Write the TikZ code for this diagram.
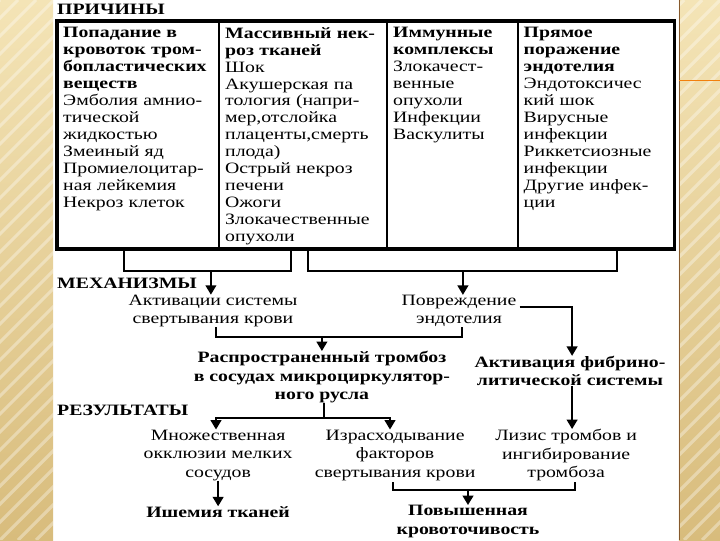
\documentclass[tikz,border=0pt]{standalone}
\usepackage{fontspec}
\setmainfont[FakeStretch=1.25]{Liberation Serif}
\usetikzlibrary{arrows.meta}
\definecolor{goldlight}{HTML}{F4E4B6}
\definecolor{golddark}{HTML}{D8BC7C}

\begin{document}
\begin{tikzpicture}[
	cell/.style={anchor=north west, inner sep=0pt, text width=5.1cm, align=left,
		font=\fontsize{15}{16.1}\selectfont},
	txt/.style={inner sep=0pt, align=center, font=\fontsize{15}{17.5}\selectfont},
	bold/.style={txt, font=\fontsize{15}{17.5}\selectfont\bfseries},
	head/.style={anchor=west, inner sep=0pt, font=\fontsize{15}{16}\selectfont\bfseries},
	link/.style={line width=2.2pt},
	arr/.style={line width=2.2pt, -{Triangle[length=9pt,width=10pt]}}
	]
		\useasboundingbox (0,0) rectangle (24,18);
		% side bars of the slide
		\shade [top color=goldlight, bottom color=golddark] (0,0) rectangle (1.77,18);
		\shade [top color=goldlight, bottom color=golddark] (22.63,0) rectangle (24,18);
		\begin{scope}
			\clip (0,0) rectangle (1.77,18) (22.63,0) rectangle (24,18);
			\foreach \s in {-24,-23.4,...,24}
				\draw [white, opacity=0.35, line width=3pt] (\s,0) -- (\s+18,18);
		\end{scope}
		\draw [brown!70!black, line width=0.6pt] (22.63,0) -- (22.63,18);
		\draw [orange!80!brown, line width=0.6pt] (22.63,15.33) -- (24,15.33);

		% causes table
		\node [head] (causes) at (1.9,17.7) {ПРИЧИНЫ};
		\draw [line width=3pt] (1.9,9.7) rectangle (22.47,17.3);
		\draw [line width=1.6pt] (7.3,9.7) -- (7.3,17.3);
		\draw [line width=1.6pt] (12.9,9.7) -- (12.9,17.3);
		\draw [line width=1.6pt] (17.27,9.7) -- (17.27,17.3);
		\node [cell] (col1) at (2.1,17.1) {\textbf{Попадание в\\кровоток тром-\\бопластических\\веществ}\\Эмболия амнио-\\тической\\жидкостью\\Змеиный яд\\Промиелоцитар-\\ная лейкемия\\Некроз клеток};
		\node [cell] (col2) at (7.5,17.1) {\textbf{Массивный нек-\\роз тканей}\\Шок\\Акушерская па\\тология (напри-\\мер,отслойка\\плаценты,смерть\\плода)\\Острый некроз\\печени\\Ожоги\\Злокачественные\\опухоли};
		\node [cell] (col3) at (13.1,17.1) {\textbf{Иммунные\\комплексы}\\Злокачест-\\венные\\опухоли\\Инфекции\\Васкулиты};
		\node [cell] (col4) at (17.45,17.1) {\textbf{Прямое\\поражение\\эндотелия}\\Эндотоксичес\\кий шок\\Вирусные\\инфекции\\Риккетсиозные\\инфекции\\Другие инфек-\\ции};

		% mechanisms
		\node [head] (mech) at (1.9,8.57) {МЕХАНИЗМЫ};
		\node [txt] (coag) at (7.1,7.63) {Активации системы\\свертывания крови};
		\node [txt] (endo) at (15.3,7.63) {Повреждение\\эндотелия};
		\node [bold] (fibr) at (19.0,5.63) {Активация фибрино-\\литической системы};
		\node [bold] (thromb) at (10.73,5.43) {Распространенный тромбоз\\в сосудах микроциркулятор-\\ного русла};

		\coordinate (c1) at (4.13,9.7);
		\coordinate (c2a) at (9.7,9.7);
		\coordinate (c2b) at (10.27,9.7);
		\coordinate (c4) at (20.57,9.7);
		\coordinate (m1) at (7.03,8.97);
		\coordinate (m2) at (15.43,8.97);
		\draw [link] (c1) |- (m1) -| (c2a);
		\draw [link] (c2b) |- (m2) -| (c4);
		\draw [arr] (m1) -- (m1 |- coag.north);
		\draw [arr] (m2) -- (m2 |- endo.north);

		\coordinate (j1) at (10.73,6.77);
		\draw [link] (coag.south) ++(0.1,0) coordinate (b1) -- (b1 |- j1) -- (j1)
			-| ([xshift=0.1cm]endo.south);
		\draw [arr] (j1) -- (j1 |- thromb.north);
		\coordinate (f1) at (19.07,7.77);
		\draw [arr] ([xshift=3pt]endo.east |- f1) -| (fibr.north -| f1);

		% results
		\node [head] (res) at (1.9,4.33) {РЕЗУЛЬТАТЫ};
		\node [txt] (occl) at (7.27,2.83) {Множественная\\окклюзии мелких\\сосудов};
		\node [txt] (cons) at (13.17,2.83) {Израсходывание\\факторов\\свертывания крови};
		\node [txt] (lysis) at (18.87,2.83) {Лизис тромбов и\\ингибирование\\тромбоза};
		\node [bold] (isch) at (7.27,0.93) {Ишемия тканей};
		\node [bold] (bleed) at (15.6,0.62) {Повышенная\\кровоточивость};

		\coordinate (j2) at (10.8,4.07);
		\draw [link] (thromb.south -| j2) -- (j2);
		\draw [arr] (j2) -| ([xshift=-0.07cm]occl.north);
		\draw [arr] (j2) -| ([xshift=-0.17cm]cons.north);
		\draw [arr] (fibr.south -| f1) -- (f1 |- lysis.north);
		\draw [arr] (occl.south) -- (isch.north);
		\coordinate (j3) at (15.6,1.67);
		\draw [link] (13.1,1.93) |- (j3) -| (19.17,1.93);
		\draw [arr] (j3) -- (bleed.north);
\end{tikzpicture}
\end{document}
